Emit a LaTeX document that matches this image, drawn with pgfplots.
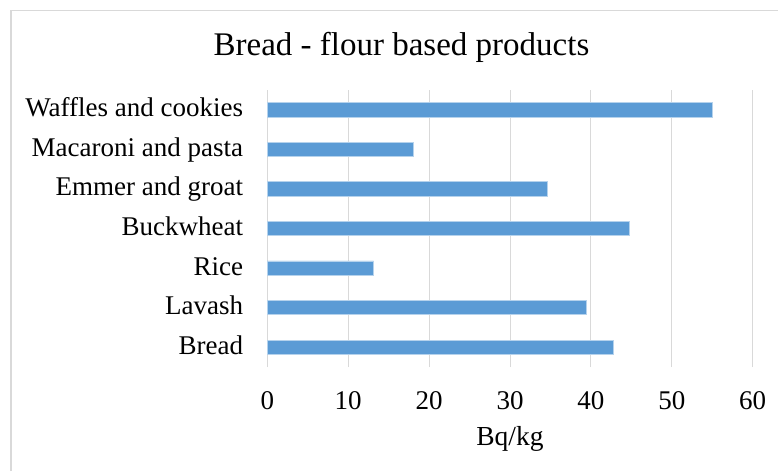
\documentclass[border=0pt]{standalone}
\usepackage{pgfplots}
\pgfplotsset{compat=1.18}
\usepackage{fontspec}
\setmainfont{Liberation Serif}
\definecolor{barblue}{HTML}{5B9BD5}
\definecolor{gridgray}{HTML}{D9D9D9}
\begin{document}
\begin{tikzpicture}
\useasboundingbox (0,0) rectangle (778pt,471pt);
\fill[white] (0,0) rectangle (778pt,471pt);
\draw[gridgray, line width=1.2pt] (11pt,0) -- (11pt,460.3pt) -- (778pt,460.3pt);
\node[anchor=base, inner sep=0pt, font=\fontsize{33}{39}\selectfont] at (401.5pt,415pt) {Bread - flour based products};
\begin{axis}[
  at={(267.3pt,104pt)}, anchor=south west,
  scale only axis, width=485.4pt, height=277pt,
  xmin=0, xmax=60, ymin=-0.5, ymax=6.5,
  xtick={0,10,...,60},
  ytick={0,1,2,3,4,5,6},
  yticklabels={Bread,Lavash,Rice,Buckwheat,Emmer and groat,Macaroni and pasta,Waffles and cookies},
  major tick length=0pt,
  axis line style={draw=none},
  xmajorgrids, grid style={gridgray, line width=1pt},
  /pgf/number format/assume math mode=true,
  ticklabel style={font=\fontsize{27}{32}\selectfont, inner sep=0pt},
  yticklabel style={anchor=base east, xshift=-24pt, yshift=-7pt},
  xticklabel style={anchor=base, yshift=-42pt},
  xlabel={Bq/kg},
  xlabel style={at={(axis description cs:0.5,0)}, anchor=base, yshift=-78pt, inner sep=0pt, font=\fontsize{27.5}{32}\selectfont},
  clip=false,
]
\addplot[xbar, bar width=14.3pt, fill=barblue, draw=barblue!45, line width=0.8pt]
  coordinates {(42.8,0) (39.4,1) (13.15,2) (44.8,3) (34.6,4) (18.1,5) (55.0,6)};
\end{axis}
\end{tikzpicture}
\end{document}
